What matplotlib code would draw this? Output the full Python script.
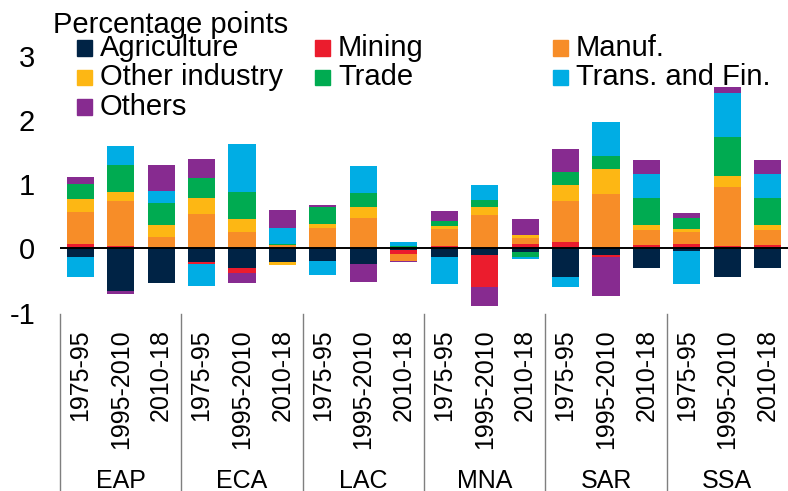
import matplotlib
matplotlib.use('Agg')
import matplotlib.pyplot as plt
import matplotlib.transforms as mtransforms
from matplotlib.patches import Rectangle
import numpy as np

plt.rcParams['font.family'] = ['Liberation Sans', 'DejaVu Sans']
plt.rcParams['axes.unicode_minus'] = False

regions = ['EAP', 'ECA', 'LAC', 'MNA', 'SAR', 'SSA']
periods = ['1975-95', '1995-2010', '2010-18']

# contributions by sector, one value per bar (region x period)
agri = [-0.14, -0.67, -0.54, -0.21, -0.31, -0.21, -0.20, -0.24, -0.03,
        -0.13, -0.11, -0.06, -0.44, -0.11, -0.30, -0.04, -0.45, -0.30]
mining = [0.07, 0.04, 0.0, -0.03, -0.07, 0.0, 0.0, 0.0, -0.06,
          0.04, -0.49, 0.07, 0.10, -0.02, 0.05, 0.07, 0.03, 0.05]
manuf = [0.49, 0.69, 0.17, 0.54, 0.25, 0.05, 0.32, 0.47, -0.11,
         0.26, 0.52, 0.09, 0.63, 0.85, 0.23, 0.19, 0.92, 0.23]
other_ind = [0.21, 0.15, 0.19, 0.25, 0.21, -0.05, 0.06, 0.17, 0.01,
             0.05, 0.13, 0.04, 0.26, 0.38, 0.09, 0.04, 0.18, 0.09]
trade = [0.24, 0.42, 0.35, 0.31, 0.42, 0.02, 0.26, 0.22, 0.02,
         0.08, 0.11, -0.08, 0.20, 0.21, 0.42, 0.17, 0.61, 0.42]
trans = [-0.30, 0.29, 0.18, -0.35, 0.75, 0.25, -0.21, 0.42, 0.07,
         -0.42, 0.22, -0.02, -0.16, 0.53, 0.37, -0.51, 0.68, 0.37]
others = [0.10, -0.04, 0.41, 0.29, -0.16, 0.28, 0.03, -0.28, -0.02,
          0.15, -0.30, 0.25, 0.36, -0.61, 0.21, 0.08, 0.09, 0.21]

sectors = ['Agriculture', 'Mining', 'Manuf.', 'Other industry', 'Trade',
           'Trans. and Fin.', 'Others']
series = [agri, mining, manuf, other_ind, trade, trans, others]
colors = ['#002345', '#EB1C2D', '#F78D28', '#FDB714', '#00AB51', '#00ADE4', '#872B90']

fig = plt.figure(figsize=(7.88, 4.91), dpi=100)
ax = fig.add_axes([60/788, 178.5/491, 728/788, 312.5/491])

x = np.arange(len(regions)*len(periods))
pos_base = np.zeros(len(x))
neg_base = np.zeros(len(x))
for vals, col in zip(series, colors):
    v = np.array(vals)
    pos = np.where(v > 0, v, 0)
    neg = np.where(v < 0, v, 0)
    ax.bar(x, pos, 0.67, bottom=pos_base, color=col, linewidth=0)
    ax.bar(x, neg, 0.67, bottom=neg_base, color=col, linewidth=0)
    pos_base += pos
    neg_base += neg

ax.axhline(0, color='black', lw=1.4)
ax.set_xlim(-0.5, len(x) - 0.5)
ax.set_ylim(-1, 3.87)
ax.set_yticks([-1, 0, 1, 2, 3])
ax.tick_params(axis='y', length=0, labelsize=21, pad=18)
ax.set_xticks(x)
ax.set_xticklabels(periods*len(regions), rotation=90, fontsize=18)
ax.tick_params(axis='x', length=0, pad=12)
for s in ax.spines.values():
    s.set_visible(False)

# group separators and region names below the axis
trans_xf = mtransforms.blended_transform_factory(ax.transData, fig.transFigure)
for i, r in enumerate(regions):
    ax.plot([3*i - 0.5]*2, [0, 177/491], color='#7f7f7f', lw=1,
            transform=trans_xf, clip_on=False)
    fig.text(3*i + 1, 3/491, r, transform=trans_xf, ha='center',
             va='baseline', fontsize=18)

# legend drawn by hand, three fixed columns
fig.text(53/788, 1 - 33/491, 'Percentage points', fontsize=21, va='baseline')
col_x = [77, 315, 553]
row_y = [56, 85.5, 115]
for k, (name, col) in enumerate(zip(sectors, colors)):
    r, c = divmod(k, 3)
    fig.patches.append(Rectangle((col_x[c]/788, 1 - (row_y[r] - 0.5)/491),
                                 15/788, 15/491, color=col,
                                 transform=fig.transFigure))
    fig.text((col_x[c] + 23)/788, 1 - row_y[r]/491, name, fontsize=21,
             va='baseline')

fig.savefig('out.png', dpi=100)
